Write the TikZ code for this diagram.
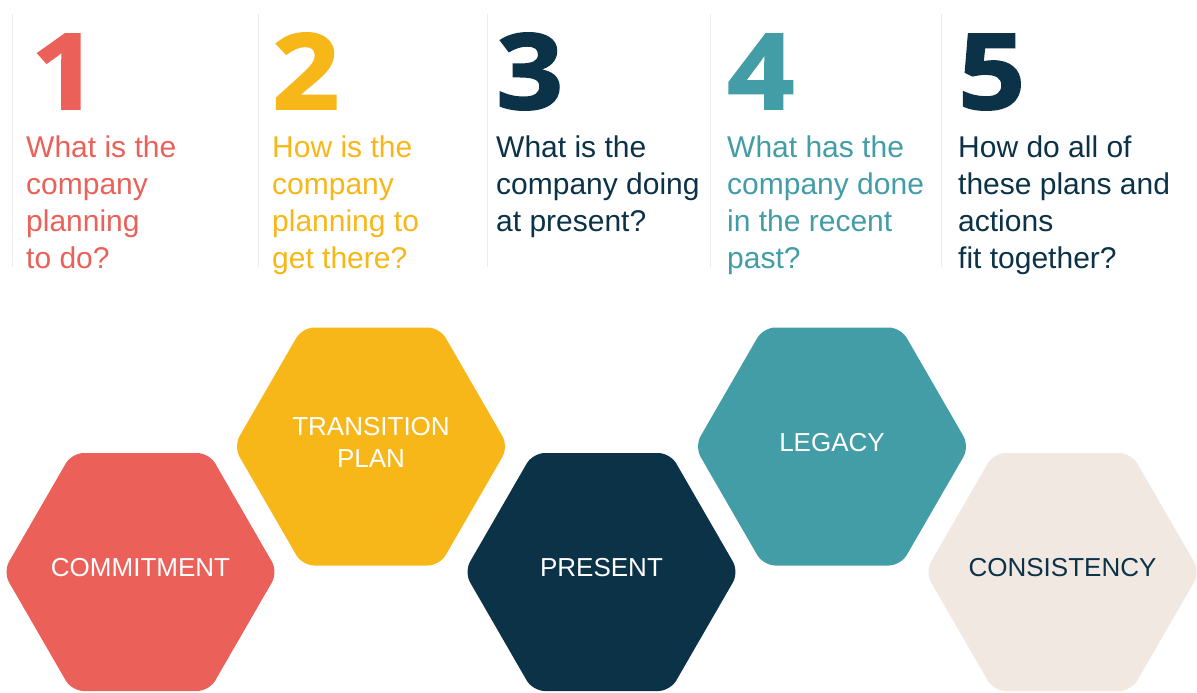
\documentclass[tikz,border=0pt]{standalone}
\usepackage{fontspec}
\setmainfont{Liberation Sans}
\newfontfamily\numfont{Open Sans}[BoldFeatures={FakeBold=1.8,FakeStretch=1.12}]
\definecolor{cred}{HTML}{EB615A}
\definecolor{cyellow}{HTML}{F8B718}
\definecolor{cnavy}{HTML}{0C3248}
\definecolor{cteal}{HTML}{429DA6}
\definecolor{cbeige}{HTML}{F2E8E2}
\definecolor{sepgray}{HTML}{ECECEC}
\tikzset{
  hexshape/.style={rounded corners=12pt},
  qtext/.style={anchor=base west, align=left, inner sep=0pt, font=\fontsize{30}{37}\selectfont},
  numtext/.style={anchor=base west, inner sep=0pt, font=\numfont\bfseries\fontsize{105}{105}\selectfont},
  hexlabel/.style={align=center, inner sep=0pt, font=\fontsize{26}{32}\selectfont},
  sepline/.style={draw=sepgray, line width=1pt}
}
\newcommand\hexat[3]{%
  \fill[hexshape, #3] ({#1-137.4},#2) -- ({#1-68.7},{#2-119}) -- ({#1+68.7},{#2-119})
     -- ({#1+137.4},#2) -- ({#1+68.7},{#2+119}) -- ({#1-68.7},{#2+119}) -- cycle;}
\begin{document}
\begin{tikzpicture}[x=1pt,y=-1pt]
\fill[white] (0,0) rectangle (1197,693);
\useasboundingbox (0,0) rectangle (1197,693);

% separators
\foreach \sx in {12,258,487,710,941}
  \draw[sepline] (\sx,14) -- (\sx,267);

% numbers
\node[numtext, text=cred]    (n1) at (31,109)  {1};
\node[numtext, text=cyellow] (n2) at (272,109) {2};
\node[numtext, text=cnavy]   (n3) at (496,109) {3};
\node[numtext, text=cteal]   (n4) at (727,109) {4};
\node[numtext, text=cnavy]   (n5) at (958,109) {5};

% questions (anchored at the baseline of the last line)
\node[qtext, text=cred]    (q1) at (26,268)  {What is the\\company\\planning\\to do?};
\node[qtext, text=cyellow] (q2) at (272,268) {How is the\\company\\planning to\\get there?};
\node[qtext, text=cnavy]   (q3) at (496,231) {What is the\\company doing\\at present?};
\node[qtext, text=cteal]   (q4) at (727,268) {What has the\\company done\\in the recent\\past?};
\node[qtext, text=cnavy]   (q5) at (958,268) {How do all of\\these plans and\\actions\\fit together?};

% hexagons
\hexat{140.5}{572}{cred}
\hexat{371}{446.5}{cyellow}
\hexat{601.5}{572}{cnavy}
\hexat{832}{446.5}{cteal}
\hexat{1062.5}{572}{cbeige}

\node[hexlabel, text=white] (h1) at (140.5,568) {COMMITMENT};
\node[hexlabel, text=white] (h2) at (371,442.5) {TRANSITION\\PLAN};
\node[hexlabel, text=white] (h3) at (601.5,568) {PRESENT};
\node[hexlabel, text=white] (h4) at (832,442.5) {LEGACY};
\node[hexlabel, text=cnavy] (h5) at (1062.5,568) {CONSISTENCY};
\end{tikzpicture}
\end{document}
